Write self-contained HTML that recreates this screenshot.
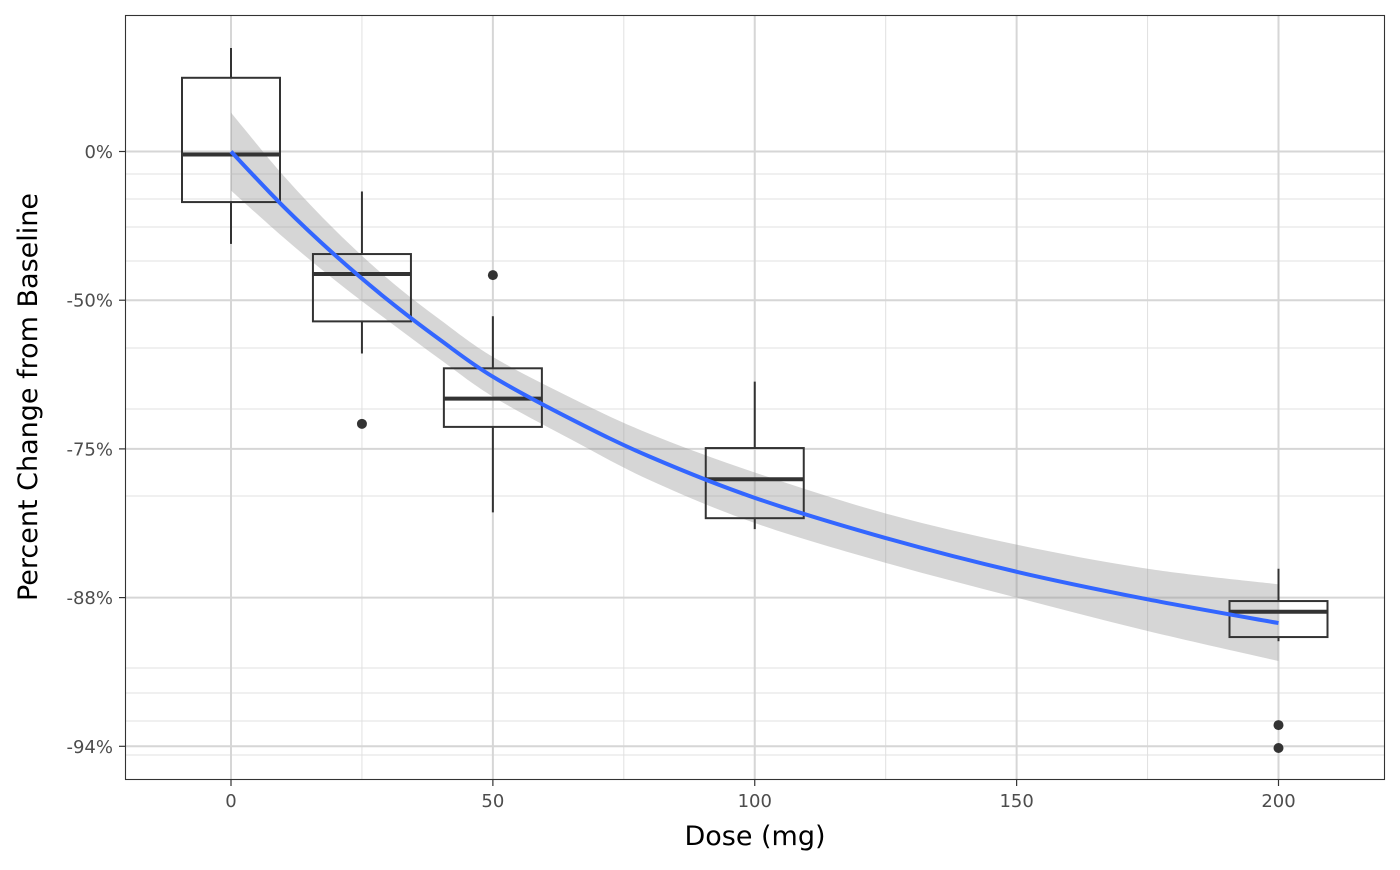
<!DOCTYPE html>
<html><head><meta charset="utf-8"><style>
body{margin:0;background:#fff;font-family:"DejaVu Sans","Liberation Sans",sans-serif;}
svg text{font-family:"DejaVu Sans","Liberation Sans",sans-serif;}
</style></head><body>
<svg id="chart" width="1400" height="866" viewBox="0 0 1400 866" xmlns="http://www.w3.org/2000/svg">
<g id="grid"></g>
<g id="band"></g>
<g id="boxes"></g>
<g id="fit"></g>
<rect x="125.5" y="15.5" width="1259" height="764" fill="none" stroke="#333" stroke-width="1.1"/>
<g id="axes"></g>
<text x="755" y="845" text-anchor="middle" font-size="27" fill="#000">Dose (mg)</text>
<text transform="translate(37,397) rotate(-90)" text-anchor="middle" font-size="27" fill="#000">Percent Change from Baseline</text>
</svg>
<script>
const doses = [0, 25, 50, 100, 200];
const whiskerHi = [62, -17, -53.6, -65.8, -85.7];
const q3 = [41, -38, -63.6, -74.9, -87.7];
const medians = [-1.4, -43.5, -68.4, -78.3, -88.3];
const q1 = [-21, -54.7, -72.3, -81.9, -89.6];
const whiskerLo = [-35, -61, -81.4, -82.8, -89.8];
const outlierDoses = [25, 50, 200, 200];
const outlierValues = [-71.9, -43.8, -93.1, -93.8];
const fitDoses = [0, 10, 20, 30, 40, 50, 65, 80, 100, 125, 150, 175, 200];
const fitValues = [0, -22.6, -38.5, -50.0, -58.5, -65.0, -71.3, -75.9, -80.1, -83.5, -85.9, -87.6, -88.9];
const bandUpper = [19.9, -10.6, -30.9, -44.8, -54.4, -61.6, -68.3, -73.2, -77.6, -81.5, -84.0, -85.7, -86.7];
const bandLower = [-16.6, -33.0, -45.3, -54.6, -62.1, -68.1, -73.9, -78.4, -82.3, -85.3, -87.5, -89.3, -90.7];
const xTicks = [0, 50, 100, 150, 200];
const xMinor = [25, 75, 125, 175];
const yTicks = [0, -50, -75, -87.5, -93.75];
const yTickLabels = ["0%", "-50%", "-75%", "-88%", "-94%"];

const NS = "http://www.w3.org/2000/svg";
const X = d => 231 + d * 5.2375;
const Y = p => 151.5 - 148.7 * Math.log2(1 + p / 100);
function mk(tag, attrs, parent) {
  const e = document.createElementNS(NS, tag);
  for (const k in attrs) e.setAttribute(k, attrs[k]);
  parent.appendChild(e);
  return e;
}
function smooth(pts, start) {
  let d = start ? 'M' + pts[0][0] + ',' + pts[0][1] : 'L' + pts[0][0] + ',' + pts[0][1];
  for (let i = 0; i < pts.length - 1; i++) {
    const p0 = pts[Math.max(0, i - 1)], p1 = pts[i], p2 = pts[i + 1], p3 = pts[Math.min(pts.length - 1, i + 2)];
    const c1 = [p1[0] + (p2[0] - p0[0]) / 6, p1[1] + (p2[1] - p0[1]) / 6];
    const c2 = [p2[0] - (p3[0] - p1[0]) / 6, p2[1] - (p3[1] - p1[1]) / 6];
    d += ` C${c1[0]},${c1[1]} ${c2[0]},${c2[1]} ${p2[0]},${p2[1]}`;
  }
  return d;
}
const grid = document.getElementById('grid');
[174, 199, 227, 261, 348, 409, 496, 668, 693, 721, 755].forEach(y => {
  const l = mk('line', {x1: 126, x2: 1384, y1: y, y2: y, stroke: '#e0e0e0', 'stroke-width': 1}, grid);
  
  
});
xMinor.forEach(d => {
  const l = mk('line', {x1: X(d), x2: X(d), y1: 16, y2: 779, stroke: '#e0e0e0', 'stroke-width': 1}, grid);
  
  
});
yTicks.forEach(v => {
  const l = mk('line', {x1: 126, x2: 1384, y1: Y(v), y2: Y(v), stroke: '#d6d6d6', 'stroke-width': 2}, grid);
  
  
});
xTicks.forEach(d => {
  const l = mk('line', {x1: X(d), x2: X(d), y1: 16, y2: 779, stroke: '#d6d6d6', 'stroke-width': 2}, grid);
  
  
});
const up = fitDoses.map((d, i) => [X(d), Y(bandUpper[i])]);
const lo = fitDoses.map((d, i) => [X(d), Y(bandLower[i])]).reverse();
const bp = mk('path', {d: smooth(up, true) + ' ' + smooth(lo, false) + ' Z', fill: '#999', 'fill-opacity': 0.4}, document.getElementById('band'));


const boxes = document.getElementById('boxes');
const hw = 49;
doses.forEach((d, i) => {
  const g = mk('g', {}, boxes);
  
  
  const cx = X(d);
  mk('line', {x1: cx, x2: cx, y1: Y(whiskerHi[i]), y2: Y(q3[i]), stroke: '#333', 'stroke-width': 2}, g);
  mk('line', {x1: cx, x2: cx, y1: Y(q1[i]), y2: Y(whiskerLo[i]), stroke: '#333', 'stroke-width': 2}, g);
  mk('rect', {x: cx - hw, y: Y(q3[i]), width: 2 * hw, height: Y(q1[i]) - Y(q3[i]), fill: 'none', stroke: '#333', 'stroke-width': 2}, g);
  mk('line', {x1: cx - hw, x2: cx + hw, y1: Y(medians[i]), y2: Y(medians[i]), stroke: '#333', 'stroke-width': 4}, g);
});
outlierDoses.forEach((d, i) => {
  const c = mk('circle', {cx: X(d), cy: Y(outlierValues[i]), r: 5, fill: '#333'}, boxes);
  
  
});
const fp = fitDoses.map((d, i) => [X(d), Y(fitValues[i])]);
const fl = mk('path', {d: smooth(fp, true), fill: 'none', stroke: '#3366ff', 'stroke-width': 4}, document.getElementById('fit'));


const axes = document.getElementById('axes');
xTicks.forEach(d => {
  mk('line', {x1: X(d), x2: X(d), y1: 780, y2: 786, stroke: '#333', 'stroke-width': 1.2}, axes);
  const t = mk('text', {x: X(d), y: 807, 'text-anchor': 'middle', 'font-size': 18, fill: '#4d4d4d'}, axes);
  t.textContent = d;
  
  
});
yTicks.forEach((v, i) => {
  mk('line', {x1: 119, x2: 125, y1: Y(v), y2: Y(v), stroke: '#333', 'stroke-width': 1.2}, axes);
  const t = mk('text', {x: 113, y: Y(v) + 6.5, 'text-anchor': 'end', 'font-size': 18, fill: '#4d4d4d'}, axes);
  t.textContent = yTickLabels[i];
  
  
});
</script>
</body></html>
